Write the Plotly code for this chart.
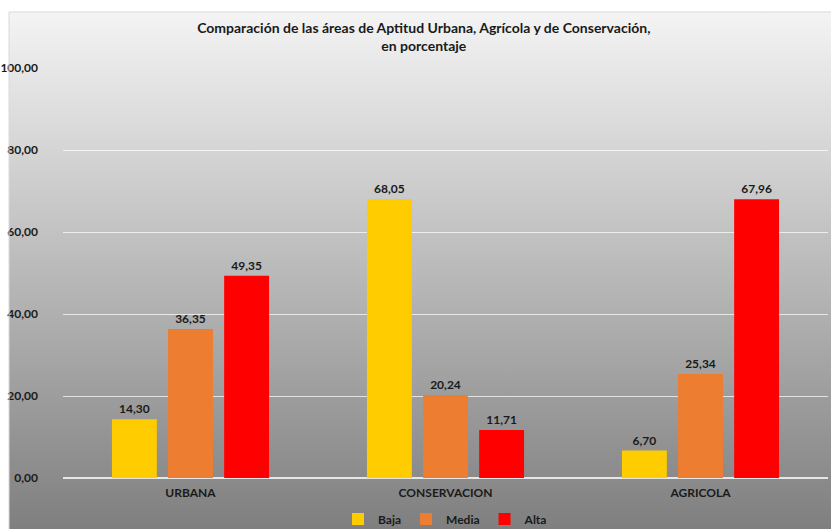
import base64

import plotly.graph_objects as go

categories = ["URBANA", "CONSERVACION", "AGRICOLA"]
baja = [14.30, 68.05, 6.70]
media = [36.35, 20.24, 25.34]
alta = [49.35, 11.71, 67.96]
series = [("Baja", baja, "#FFCC00"), ("Media", media, "#ED7D31"), ("Alta", alta, "#FF0000")]

FONT = "Lato, Open Sans, sans-serif"

# gradient backdrop as an svg data uri
svg = (
    '<svg xmlns="http://www.w3.org/2000/svg" width="100" height="100" preserveAspectRatio="none">'
    '<defs><linearGradient id="g" x1="0" y1="0" x2="0" y2="1">'
    '<stop offset="0" stop-color="#f4f4f4"/><stop offset="1" stop-color="#7f7f7f"/>'
    '</linearGradient></defs><rect width="100" height="100" fill="url(#g)"/></svg>'
)
bg_src = "data:image/svg+xml;base64," + base64.b64encode(svg.encode()).decode()

fig = go.Figure()
for name, vals, color in series:
    fig.add_trace(go.Bar(
        x=categories, y=vals, name=name, marker_color=color, marker_line_width=0,
        texttemplate="%{y:.2f}", textposition="outside", cliponaxis=False,
        textfont=dict(family=FONT, size=12, color="#1a1a1a", weight="bold"),
    ))

W, H = 831, 529
L, R, T, B = 63, 3, 68, 51
pw, ph = W - L - R, H - T - B
x0 = (9 - L) / pw
x1 = (W - L) / pw
y1 = (H - 12 - B) / ph
y0 = -B / ph

fig.add_layout_image(dict(
    source=bg_src, xref="paper", yref="paper", x=x0, y=y1,
    sizex=x1 - x0, sizey=y1 - y0, sizing="stretch", layer="below",
    xanchor="left", yanchor="top",
))
fig.add_shape(type="line", xref="paper", yref="paper", x0=x0, x1=x1, y0=y1, y1=y1,
              line=dict(color="#d9d9d9", width=1))
fig.add_shape(type="line", xref="paper", yref="paper", x0=x0, x1=x0, y0=y0, y1=y1,
              line=dict(color="#d9d9d9", width=1))

fig.update_layout(
    width=W, height=H,
    margin=dict(l=L, r=R, t=T, b=B, autoexpand=False),
    paper_bgcolor="white", plot_bgcolor="rgba(0,0,0,0)",
    separators=",.",
    barmode="group", bargap=0.34, bargroupgap=0.2,
    title=dict(
        text="Comparación de las áreas de Aptitud Urbana, Agrícola y de Conservación,<br>en porcentaje",
        x=0.51, xref="container", xanchor="center", y=1 - 33 / H, yanchor="middle",
        font=dict(family=FONT, size=14, color="#1a1a1a", weight="bold"),
    ),
    font=dict(family=FONT, size=12, color="#1a1a1a"),
    legend=dict(orientation="h", x=0.5, xanchor="center", y=-0.1, yanchor="middle",
                font=dict(family=FONT, size=12, color="#1a1a1a", weight="bold"),
                bgcolor="rgba(0,0,0,0)", itemwidth=30, traceorder="normal"),
    showlegend=True,
)
fig.update_xaxes(showgrid=False, showline=False, ticks="", automargin=False,
                 ticklabelstandoff=6,
                 tickfont=dict(family=FONT, size=12, color="#1a1a1a", weight="bold"))
fig.update_yaxes(range=[0, 100], dtick=20, tickformat=".2f", showgrid=True,
                 gridcolor="rgba(255,255,255,0.7)", gridwidth=1, zeroline=True,
                 zerolinecolor="#e6e6e6", zerolinewidth=2, showline=False, ticks="",
                 ticklabelstandoff=24, automargin=False,
                 tickfont=dict(family=FONT, size=12, color="#1a1a1a", weight="bold"))

fig.write_html("out.html", config={"displayModeBar": False},
               post_script="document.body.style.margin='0';")
